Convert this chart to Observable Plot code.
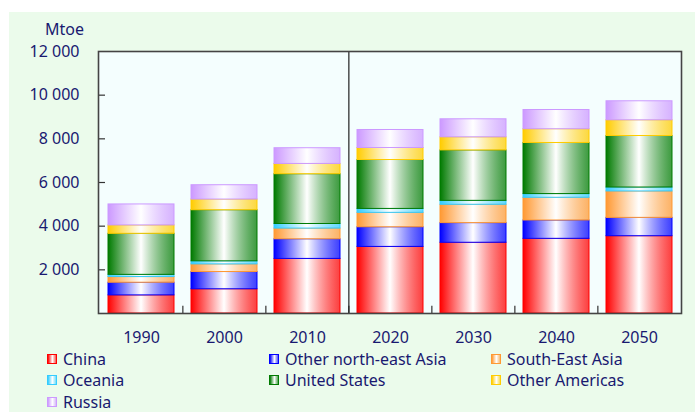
<!DOCTYPE html>
<html>
<head>
<meta charset="utf-8">
<script src="https://cdn.jsdelivr.net/npm/d3@7"></script>
<script src="https://cdn.jsdelivr.net/npm/@observablehq/plot@0.6"></script>
<style>
  body { margin: 0; background: #ffffff; font-family: "Noto Sans", sans-serif; }
  #bg { position: absolute; left: 9px; top: 12px; width: 686px; height: 400px; background: #ebfbeb; }
  #chart { position: absolute; left: 0; top: 0; }
  #unit { position: absolute; right: calc(695px - 84px); top: 19px; font-size: 16px; color: #191970; line-height: 20px; }
  .lg { position: absolute; font-size: 16px; color: #191970; line-height: 14px; white-space: nowrap; }
  .sw { position: absolute; width: 10px; height: 10px; box-sizing: border-box; border: 1px solid; }
</style>
</head>
<body>
<div id="bg"></div>
<div id="chart"></div>
<div id="unit">Mtoe</div>
<div id="legend"></div>
<script>
// ---- data ----
const years = ["1990", "2000", "2010", "2020", "2030", "2040", "2050"];
const seriesNames = ["China", "Other north-east Asia", "South-East Asia", "Oceania", "United States", "Other Americas", "Russia"];
const seriesColors = ["#ff0000", "#0000ff", "#ff9933", "#33ccff", "#007a00", "#ffcc00", "#cc99ff"];
const china       = [830, 1110, 2500, 3050, 3240, 3420, 3540];
const otherNEAsia = [580, 790, 900, 900, 900, 840, 840];
const seAsia      = [260, 350, 490, 660, 840, 1040, 1210];
const oceania     = [100, 140, 210, 180, 180, 170, 180];
const unitedStates= [1880, 2340, 2280, 2240, 2310, 2340, 2360];
const otherAmericas=[385, 490, 470, 550, 600, 630, 720];
const russia      = [960, 655, 720, 825, 825, 880, 870];
const yTicks = [2000, 4000, 6000, 8000, 10000, 12000];

const seriesValues = [china, otherNEAsia, seAsia, oceania, unitedStates, otherAmericas, russia];
const table = [];
seriesNames.forEach((s, si) => years.forEach((y, yi) => table.push({year: y, series: s, value: seriesValues[si][yi]})));

const gradIds = seriesNames.map((_, i) => `url(#grad${i})`);
const fmt = d => d3.format(",")(d).replace(",", "\u00a0");

const W = 695, ML = 98, MR = 14;
const step = (W - ML - MR) / years.length;
const ink = "#191970";

const plot = Plot.plot({
  width: W,
  height: 355,
  marginLeft: ML,
  marginRight: MR,
  marginTop: 51,
  marginBottom: 42,
  style: { fontFamily: "Noto Sans", fontSize: "16px", color: ink, background: "transparent", overflow: "visible" },
  x: { domain: years, paddingInner: 0.21, paddingOuter: 0.105, label: null },
  y: { domain: [0, 12000], label: null },
  color: { domain: seriesNames, range: gradIds },
  marks: [
    Plot.frame({ fill: "#f4fefe", stroke: "none" }),
    Plot.barY(table, Plot.stackY({ x: "year", y: "value", fill: "series", order: seriesNames })),
    Plot.ruleX(years.slice(1), { x: d => d, y1: 0, y2: 330, dx: -step / 2, stroke: "#333", strokeWidth: 1.2 }),
    Plot.ruleX(["2020"], { x: d => d, dx: -step / 2, stroke: "#222", strokeWidth: 1.2 }),
    Plot.axisY({ ticks: yTicks, tickFormat: fmt, tickSize: 0, tickPadding: 19, fill: ink }),
    Plot.axisY({ ticks: yTicks.slice(0, -1), tickSize: 7, dx: 7, text: null, stroke: "#333", strokeWidth: 1.2 }),
    Plot.axisX({ tickSize: 0, tickPadding: 18, fill: ink }),
    Plot.frame({ stroke: "#444", strokeWidth: 1.6 })
  ]
});

// gradients
const svg = d3.select(plot);
const defs = svg.insert("defs", ":first-child");
seriesColors.forEach((c, i) => {
  const g = defs.append("linearGradient").attr("id", `grad${i}`).attr("x1", 0).attr("x2", 1).attr("y1", 0).attr("y2", 0);
  g.append("stop").attr("offset", "0%").attr("stop-color", c);
  g.append("stop").attr("offset", "50%").attr("stop-color", "#ffffff");
  g.append("stop").attr("offset", "100%").attr("stop-color", c).attr("stop-opacity", 0.75);
});
svg.selectAll("rect").each(function () {
  const f = this.getAttribute("fill");
  const i = gradIds.indexOf(f);
  if (i >= 0) { this.setAttribute("stroke", seriesColors[i]); this.setAttribute("stroke-width", 1); }
});
document.getElementById("chart").appendChild(plot);

// legend
const cols = [47, 269, 491], rows = [359, 380, 402];
const legend = document.getElementById("legend");
seriesNames.forEach((s, i) => {
  const cx = cols[i % 3], cy = rows[Math.floor(i / 3)];
  const sw = document.createElement("div");
  sw.className = "sw";
  sw.style.left = cx + "px";
  sw.style.top = (cy - 5) + "px";
  sw.style.borderColor = seriesColors[i];
  sw.style.background = `linear-gradient(to right, ${seriesColors[i]}, #ffffff 55%, ${seriesColors[i]}aa)`;
  legend.appendChild(sw);
  const t = document.createElement("div");
  t.className = "lg";
  t.textContent = s;
  t.style.left = (cx + 16) + "px";
  t.style.top = (cy - 7) + "px";
  legend.appendChild(t);
});
</script>
</body>
</html>
